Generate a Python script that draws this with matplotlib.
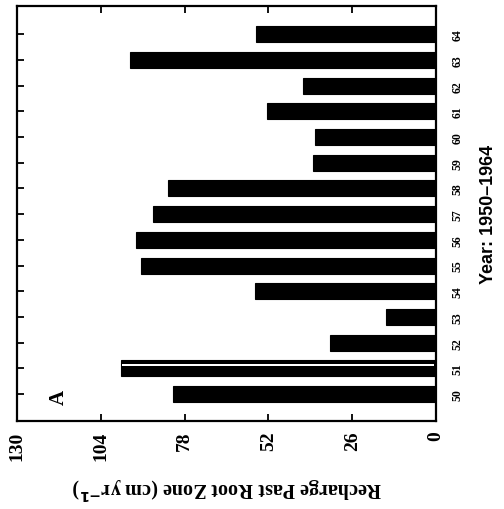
import matplotlib
matplotlib.use("Agg")
import matplotlib.pyplot as plt

years = [1950, 1951, 1952, 1953, 1954, 1955, 1956, 1957, 1958, 1959, 1960, 1961, 1962, 1963, 1964]
year_labels = ["50", "51", "52", "53", "54", "55", "56", "57", "58", "59", "60", "61", "62", "63", "64"]
recharge = [81.7, 97.8, 32.8, 15.5, 56.3, 91.6, 93.2, 87.9, 83.3, 38.1, 37.5, 52.3, 41.2, 95.0, 56.0]
value_ticks = [130, 104, 78, 52, 26, 0]

plt.rcParams['font.family'] = ['Liberation Serif', 'DejaVu Serif']
plt.rcParams['font.weight'] = 'bold'

fig = plt.figure(figsize=(5.04, 5.10), dpi=100)
ax = fig.add_axes([17/504, 1 - 422/510, (436 - 17)/504, (422 - 7)/510])

ax.barh(years, recharge, height=0.62, color='black', edgecolor='black', linewidth=0.8)
# 1951 bar shows a thin white line through it
i51 = years.index(1951)
ax.barh(years[i51] + 0.13, recharge[i51] - 1.0, height=0.06, left=0.5, color='white', linewidth=0)

ax.set_xlim(130, 0)
ax.set_ylim(1948.95, 1965.1)

ax.set_xticks(value_ticks)
ax.set_xticklabels([str(v) for v in value_ticks], rotation=90, fontsize=14, fontweight='bold', va='top', ha='center')
ax.set_yticks(years)
ax.set_yticklabels(year_labels, rotation=90, fontsize=8.5, fontweight='bold', va='center')
ax.yaxis.tick_right()
ax.tick_params(axis='both', direction='in', length=5, width=1.3, top=True, bottom=True, left=True, right=True)
ax.tick_params(axis='x', pad=7)
ax.tick_params(axis='y', pad=11, labelleft=False, labelright=True)

for s in ax.spines.values():
    s.set_linewidth(1.6)

ax.set_xlabel("Recharge Past Root Zone (cm yr$^{-1}$)", rotation=180, fontsize=14.5, fontweight='bold', labelpad=10)
ax.yaxis.set_label_position('right')
ax.set_ylabel("Year: 1950\u20131964", rotation=90, fontsize=13, fontweight='bold', labelpad=12,
              family=['Liberation Sans', 'DejaVu Sans'])

ax.text(117, 1949.9, "A", rotation=90, fontsize=15, fontweight='bold', ha='center', va='center')

fig.savefig("out.png", dpi=100)
